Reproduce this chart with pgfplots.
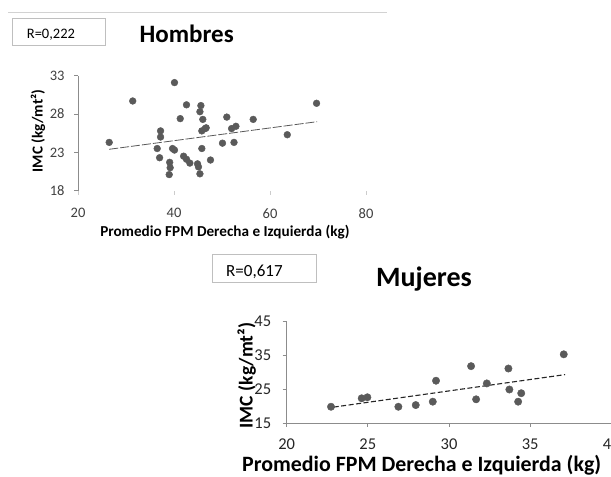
\documentclass[border=0pt]{standalone}
\usepackage{pgfplots}
\pgfplotsset{compat=1.18}
\usepackage{pgfplotstable}
\usepackage{fontspec}
\setmainfont{Carlito}

\definecolor{dotgray}{HTML}{5A5A5A}
\definecolor{axisgray}{HTML}{8C8C8C}
\definecolor{boxgray}{HTML}{BFBFBF}

% Hombres: mean grip strength (kg) vs BMI
\pgfplotstableread{
x y
26.5 24.3
31.4 29.7
40.1 32.1
42.6 29.2
41.3 27.4
45.6 29.1
45.4 28.3
46.0 27.3
46.5 26.1
45.8 25.8
46.7 26.2
37.2 25.8
37.2 25.0
36.5 23.5
39.7 23.5
40.1 23.3
37.0 22.3
39.1 21.7
39.2 21.0
39.0 20.1
42.0 22.5
42.6 22.1
43.3 21.6
44.9 21.5
45.1 21.1
45.4 20.2
45.8 23.5
47.6 22.0
50.1 24.2
51.0 27.6
52.5 24.3
52.0 26.1
52.9 26.4
56.5 27.3
63.6 25.3
69.7 29.4
}\hombres

% Mujeres: mean grip strength (kg) vs BMI
\pgfplotstableread{
x y
22.73 19.8
24.62 22.3
24.97 22.6
26.88 19.8
27.95 20.3
29.00 21.3
29.20 27.5
31.36 31.8
31.67 22.0
32.33 26.7
33.66 31.1
33.72 24.9
34.26 21.3
34.45 23.8
37.07 35.3
}\mujeres

\begin{document}
\begin{tikzpicture}[x=1bp,y=1bp]
\clip[use as bounding box] (0,0) rectangle (611,477);
\fill[white] (0,0) rectangle (611,477);

% header rule and correlation boxes
\draw[gray!35, line width=1.5bp] (8,464.3) -- (387,464.3);
\draw[boxgray, line width=0.8bp] (12,432) rectangle (105,458.7);
\node[anchor=west, inner sep=0, font=\fontsize{14.5bp}{17bp}\selectfont] at (26.7,442) {R=0,222};
\node[inner sep=0, font=\bfseries\fontsize{25bp}{30bp}\selectfont] at (186.7,442.7) {Hombres};

\draw[boxgray, line width=0.8bp] (212.7,194.7) rectangle (316.7,222.7);
\node[anchor=west, inner sep=0, font=\fontsize{17bp}{20bp}\selectfont] at (226,205.3) {R=0,617};
\node[inner sep=0, font=\bfseries\fontsize{28bp}{33bp}\selectfont] at (424,198) {Mujeres};

\pgfplotsset{
  scatstyle/.style={only marks, mark=*, mark size=3.4bp,
    mark options={draw=dotgray, fill=dotgray}},
}

\begin{axis}[
  at={(78bp,286.3bp)}, anchor=south west,
  scale only axis, width=288bp, height=115bp,
  xmin=20, xmax=80, ymin=18, ymax=33,
  xtick={20,40,60,80}, ytick={18,23,28,33},
  axis y line*=left, axis x line*=bottom,
  x axis line style={draw=none},
  y axis line style={axisgray, line width=0.8bp},
  tick align=outside, major tick length=4bp,
  xtick style={gray!40, line width=0.6bp},
  ytick style={axisgray, line width=0.8bp},
  tick label style={font=\fontsize{14.5bp}{17bp}\selectfont, text=black!75},
  xticklabel style={yshift=-10bp},
  yticklabel style={xshift=-6bp},
  /pgf/number format/assume math mode=true,
  xlabel={Promedio FPM Derecha e Izquierda (kg)},
  ylabel={IMC (kg/mt²)},
  label style={font=\bfseries\fontsize{15.2bp}{18bp}\selectfont},
  xlabel style={at={(axis description cs:0.510,-0.357)}, anchor=center},
  ylabel style={at={(axis description cs:-0.139,0.519)}, anchor=center},
  clip=false,
]
\addplot[scatstyle] table[x=x, y=y] {\hombres};
\addplot[black!65, line width=0.8bp, dash pattern=on 9bp off 2bp] coordinates {(26.5,23.4) (69.8,27.0)};
\end{axis}

\begin{axis}[
  at={(286.7bp,54bp)}, anchor=south west,
  scale only axis, width=324.6bp, height=101.5bp,
  xmin=20, xmax=40, ymin=15, ymax=45,
  xtick={20,25,30,35,40}, ytick={15,25,35,45},
  axis y line*=left, axis x line*=bottom,
  axis line style={axisgray, line width=0.8bp},
  tick align=outside, major tick length=4bp,
  tick style={axisgray, line width=0.8bp},
  tick label style={font=\fontsize{16.5bp}{20bp}\selectfont, text=black!85},
  xticklabel style={yshift=-8bp},
  yticklabel style={xshift=-8bp},
  /pgf/number format/assume math mode=true,
  xlabel={Promedio FPM Derecha e Izquierda (kg)},
  ylabel={IMC (kg/mt²)},
  label style={font=\bfseries\fontsize{21.9bp}{26bp}\selectfont},
  xlabel style={at={(axis description cs:0.416,-0.414)}, anchor=center},
  ylabel style={at={(axis description cs:-0.123,0.468)}, anchor=center, font=\bfseries\fontsize{19.5bp}{23bp}\selectfont},
  clip=false,
]
\addplot[scatstyle, mark size=3.7bp] table[x=x, y=y] {\mujeres};
\addplot[black!85, line width=1.1bp, dash pattern=on 5bp off 2.5bp] coordinates {(22.9,19.7) (37.15,29.3)};
\end{axis}
\end{tikzpicture}
\end{document}
